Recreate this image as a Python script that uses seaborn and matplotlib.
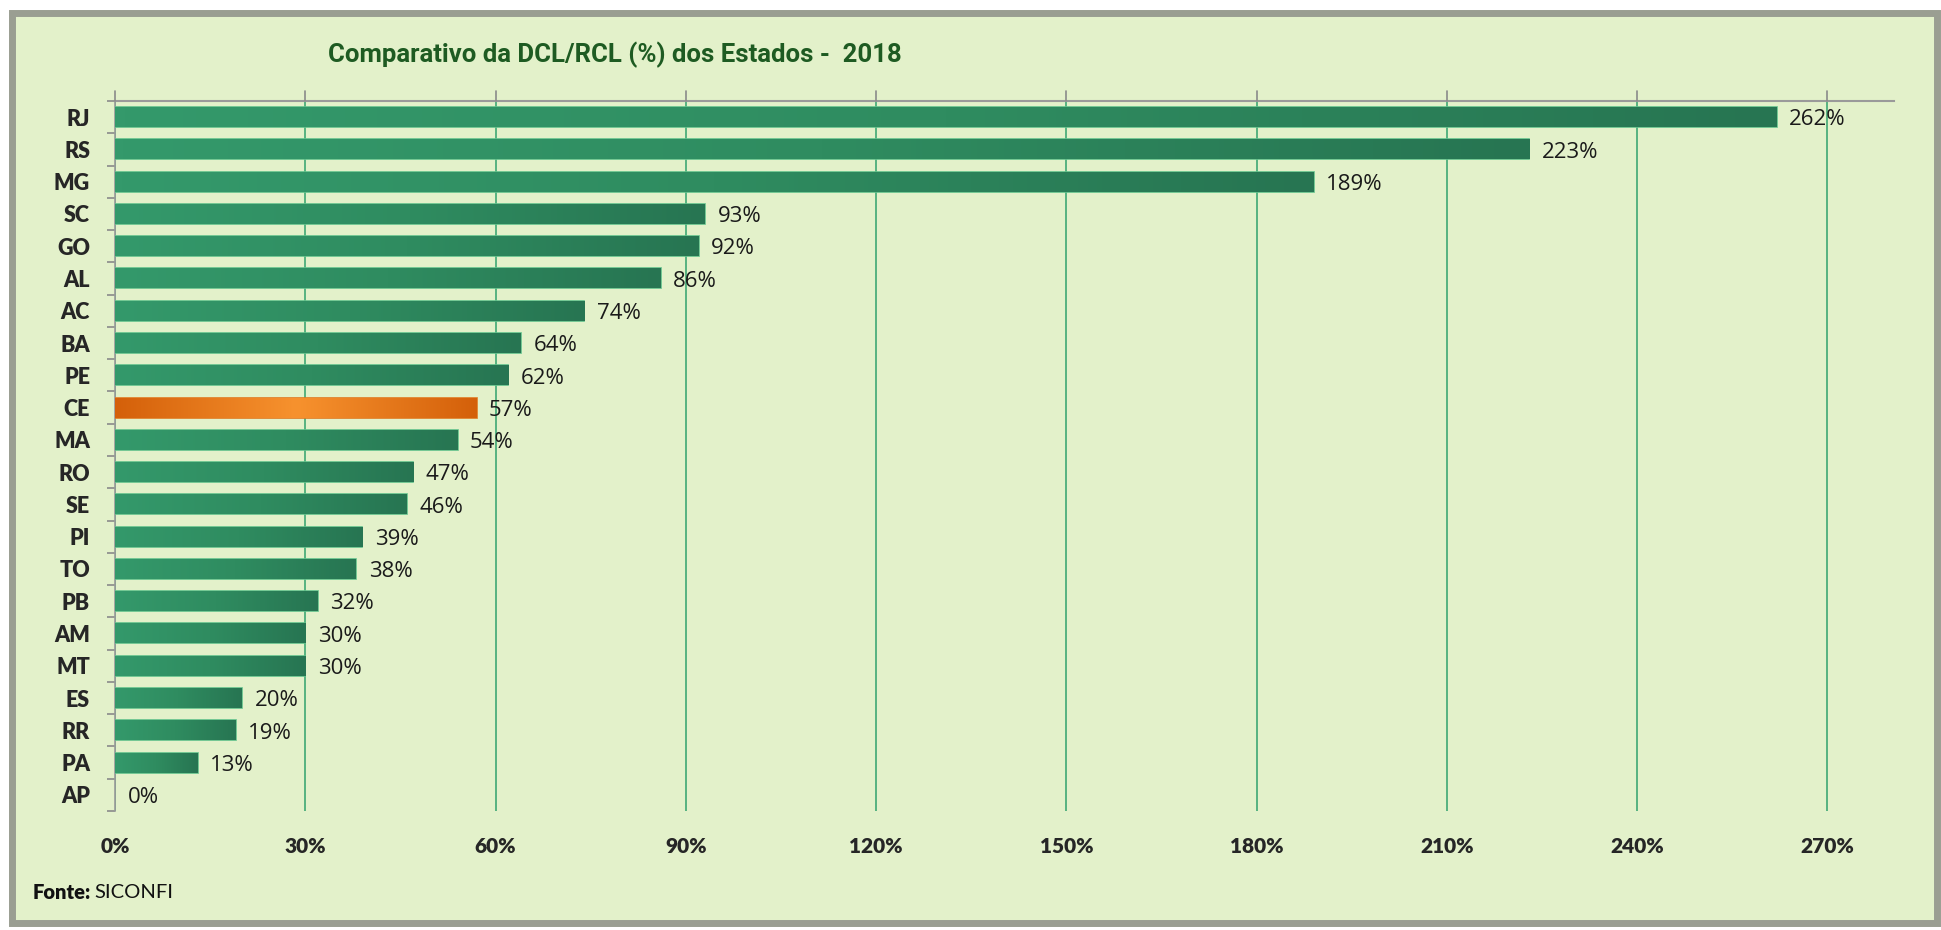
import numpy as np
import matplotlib
matplotlib.use("Agg")
import matplotlib.pyplot as plt
from matplotlib.colors import LinearSegmentedColormap
from matplotlib.patches import FancyBboxPatch
import seaborn as sns

# dados (DCL/RCL %, 2018)
estados = ["RJ", "RS", "MG", "SC", "GO", "AL", "AC", "BA", "PE", "CE", "MA",
           "RO", "SE", "PI", "TO", "PB", "AM", "MT", "ES", "RR", "PA", "AP"]
dcl_rcl = [262, 223, 189, 93, 92, 86, 74, 64, 62, 57, 54,
           47, 46, 39, 38, 32, 30, 30, 20, 19, 13, 0]
destaque = "CE"
x_ticks = [0, 30, 60, 90, 120, 150, 180, 210, 240, 270]

sns.set_theme(style="white")
plt.rcParams["font.family"] = ["Lato", "DejaVu Sans"]

BG = "#E3F1CA"
GRID = "#3FA874"

fig = plt.figure(figsize=(19.41, 9.30), dpi=100)
fig.patch.set_facecolor("white")

# moldura do gráfico
frame = FancyBboxPatch((0.006, 0.008), 0.992, 0.978, boxstyle="square,pad=0",
                       transform=fig.transFigure, facecolor=BG,
                       edgecolor="#9A9E92", linewidth=5, zorder=-5)
fig.patches.append(frame)

ax = fig.add_axes([0.0593, 0.128, 0.9165, 0.7634])
ax.set_facecolor("none")
ax.set_zorder(2)

palette = ["#F0821F" if e == destaque else "#2E8B5E" for e in estados]
sns.barplot(x=dcl_rcl, y=estados, hue=estados, palette=palette, orient="h",
            width=0.62, legend=False, ax=ax, zorder=3)

# gradientes nas barras
verde = LinearSegmentedColormap.from_list("verde", ["#34996B", "#2F8C60", "#277552"])
laranja = LinearSegmentedColormap.from_list("laranja", ["#D4600A", "#F7922E", "#D4600A"])
grad = np.linspace(0, 1, 256).reshape(1, -1)
for patch, est in zip(ax.patches, estados):
    x0, y0 = patch.get_x(), patch.get_y()
    w, h = patch.get_width(), patch.get_height()
    if w <= 0:
        patch.set_visible(False)
        continue
    cmap = laranja if est == destaque else verde
    patch.set_edgecolor("#5FC08A" if est != destaque else "#E07A20")
    patch.set_linewidth(1.2)
    im = ax.imshow(grad, cmap=cmap, aspect="auto", extent=[x0, x0 + w, y0 + h, y0],
                   zorder=3.5, interpolation="bicubic")
    im.set_clip_path(patch)

ax.set_xlim(0, 280.5)
ax.set_ylim(len(estados) - 0.5, -0.5)

# rótulos de dados
for i, v in enumerate(dcl_rcl):
    ax.annotate(f"{v}%", (v, i), xytext=(9, -2), textcoords="offset points",
                va="center", ha="left", fontsize=16, color="#1a1a1a",
                family=["Open Sans", "DejaVu Sans"], zorder=5)

# grade e eixos
ax.set_xticks(x_ticks)
ax.set_xticklabels([f"{t}%" for t in x_ticks], fontsize=15, fontweight="heavy")
ax.xaxis.grid(True, color=GRID, linewidth=1.2, zorder=1)
ax.yaxis.grid(False)
ax.tick_params(axis="x", which="both", length=0, pad=19)
for t in x_ticks:
    ax.plot([t, t], [-0.5, -0.8], color="#8A8A8A", lw=1.2, clip_on=False, zorder=4)

ax.set_yticks(np.arange(len(estados)))
ax.set_yticklabels(estados, fontsize=15.5, fontweight="heavy")
ax.set_yticks(np.arange(len(estados) + 1) - 0.5, minor=True)
ax.tick_params(axis="y", which="major", length=0, pad=18)
ax.tick_params(axis="y", which="minor", length=6, color="#8A8A8A", width=1.2, left=True)
ax.set_xlabel("")
ax.set_ylabel("")

for side in ["right", "bottom"]:
    ax.spines[side].set_visible(False)
ax.spines["top"].set_color("#9A9A9A")
ax.spines["top"].set_linewidth(1.5)
ax.spines["left"].set_color("#9A9A9A")
ax.spines["left"].set_linewidth(1.2)

fig.text(0.317, 0.941, "Comparativo da DCL/RCL (%) dos Estados -  2018", ha="center",
         va="center", fontsize=18.5, fontweight="bold", color="#1E5B22",
         family=["Roboto", "DejaVu Sans"])

fig.text(0.017, 0.040, "Fonte:", ha="left", va="center", fontsize=14.5,
         fontweight="heavy", color="#111111")
fig.text(0.0485, 0.040, "SICONFI", ha="left", va="center", fontsize=14.5, color="#111111",
         family=["Lato", "DejaVu Sans"])

fig.savefig("out.png", dpi=100, facecolor=fig.get_facecolor())
